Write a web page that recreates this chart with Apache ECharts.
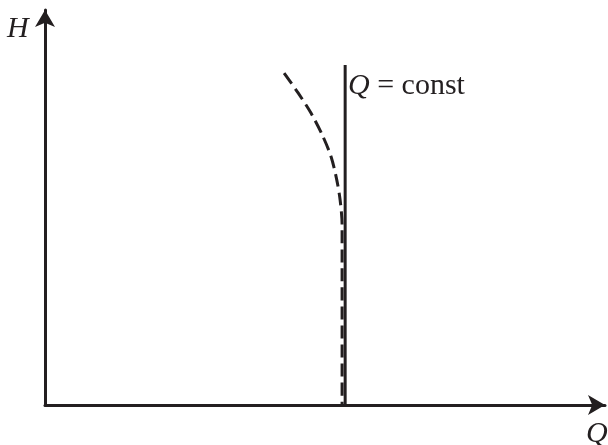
<!DOCTYPE html>
<html>
<head>
<meta charset="utf-8">
<script src="https://cdn.jsdelivr.net/npm/echarts@6/dist/echarts.min.js"></script>
<style>
  html, body { margin: 0; padding: 0; background: #fff; }
  #chart { width: 608px; height: 445px; }
</style>
</head>
<body>
<div id="chart"></div>
<script>
// axes are unitless (0..100)
const curveQ = [42.7, 45.2, 47.5, 49.5, 51.1, 52.1, 52.7, 53.05, 53.05];
const curveH = [84.0, 79.0, 73.9, 68.4, 62.8, 57.0, 51.9, 45.6, 0];
const constQ = [53.6, 53.6];
const constH = [0, 86.1];

const ink = "#231f20";
const serif = "'Liberation Serif', 'DejaVu Serif', serif";

const chart = echarts.init(document.getElementById("chart"));

const axisCommon = {
  type: "value",
  min: 0,
  max: 100,
  axisLine: {
    show: true,
    symbol: ["none", "arrow"],
    symbolSize: [15, 17],
    lineStyle: { color: ink, width: 3 }
  },
  axisTick: { show: false },
  axisLabel: { show: false },
  splitLine: { show: false }
};

chart.setOption({
  animation: false,
  grid: { left: 45, right: 3, top: 10, bottom: 40 },
  xAxis: axisCommon,
  yAxis: axisCommon,
  series: [
    {
      type: "line",
      data: curveQ.map((q, i) => [q, curveH[i]]),
      smooth: 0.3,
      symbol: "none",
      lineStyle: { color: ink, width: 3, type: [13, 6] }
    },
    {
      type: "line",
      data: constQ.map((q, i) => [q, constH[i]]),
      symbol: "none",
      lineStyle: { color: ink, width: 3 }
    }
  ],
  graphic: [
    {
      type: "text", left: 7, top: 14,
      style: { text: "H", font: "italic 30px " + serif, fill: ink }
    },
    {
      type: "text", left: 586, top: 419,
      style: { text: "Q", font: "italic 30px " + serif, fill: ink }
    },
    {
      type: "text", left: 348, top: 71,
      style: {
        text: "{i|Q} = const",
        font: "30px " + serif,
        fill: ink,
        rich: { i: { fontStyle: "italic", fontFamily: serif, fontSize: 30, fill: ink } }
      }
    }
  ]
});
</script>
</body>
</html>
